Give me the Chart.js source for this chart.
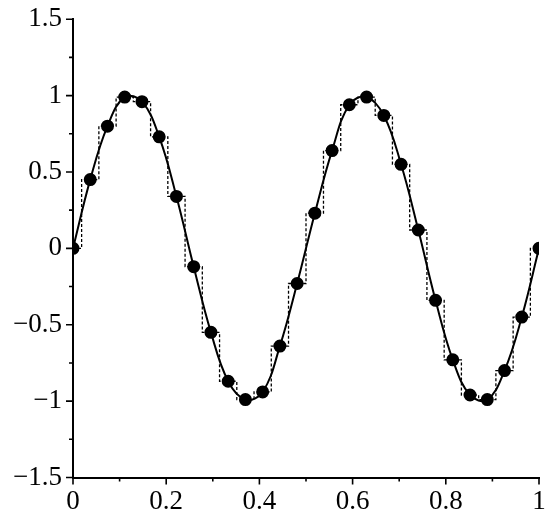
<!DOCTYPE html>
<html>
<head>
<meta charset="utf-8">
<script src="https://cdn.jsdelivr.net/npm/chart.js@4"></script>
<style>
  html, body { margin: 0; padding: 0; background: #fff; }
  #wrap { width: 550px; height: 523px; }
</style>
</head>
<body>
<div id="wrap"><canvas id="c" width="550" height="523"></canvas></div>
<script>
// ===== DATA =====
const xs = [0, 0.037, 0.074, 0.111, 0.148, 0.185, 0.222, 0.259, 0.296, 0.333,
            0.370, 0.407, 0.444, 0.481, 0.519, 0.556, 0.593, 0.630, 0.667, 0.704,
            0.741, 0.778, 0.815, 0.852, 0.889, 0.926, 0.963, 1.0];
const ys = [0, 0.45, 0.80, 0.99, 0.96, 0.73, 0.34, -0.12, -0.55, -0.87,
            -0.99, -0.94, -0.64, -0.23, 0.23, 0.64, 0.94, 0.99, 0.87, 0.55,
            0.12, -0.34, -0.73, -0.96, -0.99, -0.80, -0.45, 0];
const xMajor = [0, 0.2, 0.4, 0.6, 0.8, 1];
const xMinor = [0.1, 0.3, 0.5, 0.7, 0.9];
const yMajor = [-1.5, -1, -0.5, 0, 0.5, 1, 1.5];
const yMinor = [-1.25, -0.75, -0.25, 0.25, 0.75, 1.25];

const pts = xs.map((x, i) => ({ x: x, y: ys[i] }));
const fmt = v => (v < 0 ? '\u2212' + String(-v) : String(v));

// outward tick marks, long for major and short for minor
const tickMarks = {
  id: 'tickMarks',
  afterDraw(chart) {
    const ctx = chart.ctx, xs_ = chart.scales.x, ys_ = chart.scales.y;
    const bottom = chart.chartArea.bottom, left = chart.chartArea.left;
    ctx.save();
    ctx.strokeStyle = '#000';
    ctx.lineWidth = 1.6;
    ctx.beginPath();
    xMajor.forEach(v => { const p = xs_.getPixelForValue(v); ctx.moveTo(p, bottom); ctx.lineTo(p, bottom + 7); });
    xMinor.forEach(v => { const p = xs_.getPixelForValue(v); ctx.moveTo(p, bottom); ctx.lineTo(p, bottom + 4); });
    yMajor.forEach(v => { const p = ys_.getPixelForValue(v); ctx.moveTo(left, p); ctx.lineTo(left - 7, p); });
    yMinor.forEach(v => { const p = ys_.getPixelForValue(v); ctx.moveTo(left, p); ctx.lineTo(left - 4, p); });
    ctx.stroke();
    ctx.restore();
  }
};

const font = { family: '"Liberation Serif", "DejaVu Serif", serif', size: 27 };

new Chart(document.getElementById('c'), {
  type: 'scatter',
  data: {
    datasets: [
      {
        // dotted zero-order hold
        data: pts,
        showLine: true,
        stepped: 'middle',
        borderColor: '#000',
        borderWidth: 1.3,
        borderDash: [3, 2],
        pointRadius: 0,
        order: 2
      },
      {
        // smooth curve through samples
        data: pts,
        showLine: true,
        tension: 0.4,
        borderColor: '#000',
        borderWidth: 2,
        pointRadius: 5.5,
        pointBackgroundColor: '#000',
        pointBorderColor: '#000',
        order: 1
      }
    ]
  },
  options: {
    responsive: false,
    animation: false,
    layout: { padding: { top: 11, right: 11, left: 0, bottom: 0 } },
    plugins: { legend: { display: false }, tooltip: { enabled: false } },
    scales: {
      x: {
        type: 'linear', min: 0, max: 1,
        afterBuildTicks: s => { s.ticks = xMajor.map(v => ({ value: v })); },
        afterFit: s => { s.height = 45.5; },
        grid: { display: false },
        border: { display: true, color: '#000', width: 2 },
        ticks: { color: '#000', font: font, padding: 0, maxRotation: 0, callback: v => fmt(v) }
      },
      y: {
        type: 'linear', min: -1.5, max: 1.5,
        afterBuildTicks: s => { s.ticks = yMajor.map(v => ({ value: v })); },
        afterFit: s => { s.width = 73; },
        grid: { display: false },
        border: { display: true, color: '#000', width: 2 },
        ticks: { color: '#000', font: font, padding: 3, callback: v => fmt(v) }
      }
    }
  },
  plugins: [tickMarks]
});
</script>
</body>
</html>
